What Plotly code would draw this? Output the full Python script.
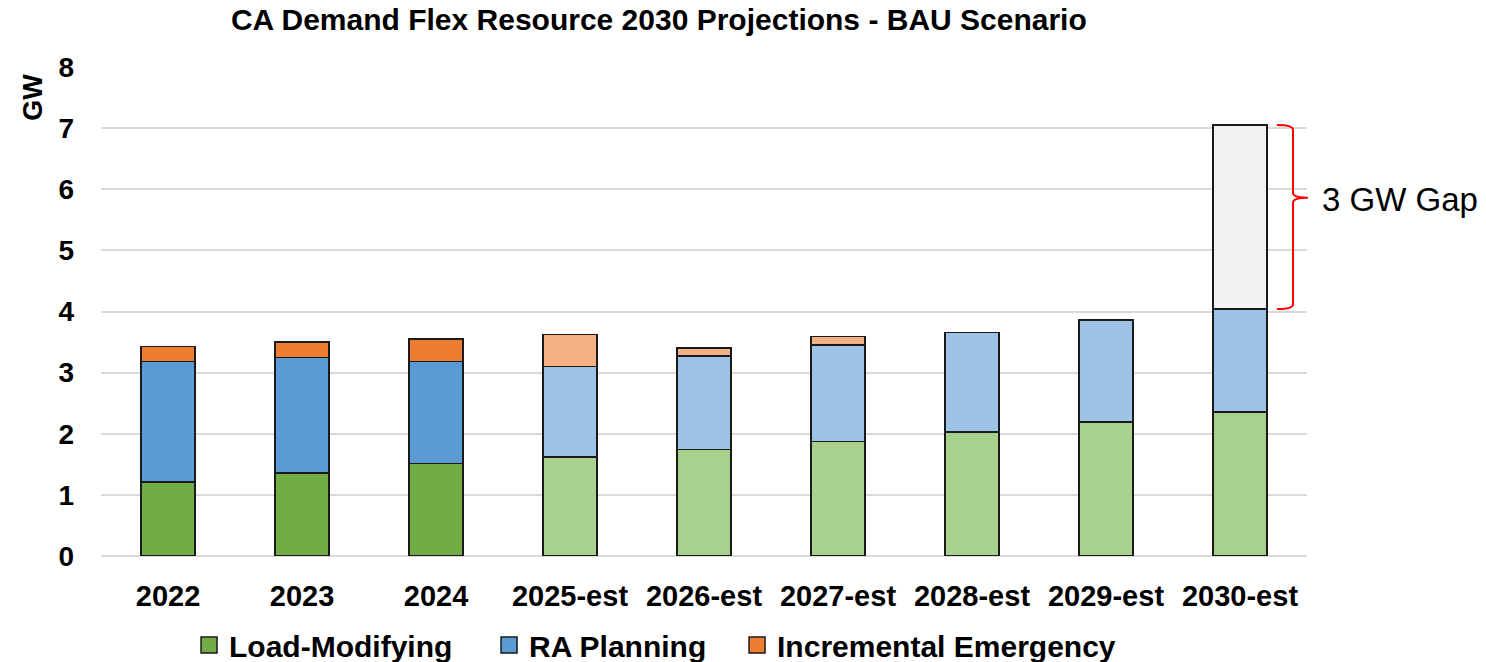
import plotly.graph_objects as go

categories = ["2022", "2023", "2024", "2025-est", "2026-est", "2027-est", "2028-est", "2029-est", "2030-est"]
load_modifying = [1.21, 1.36, 1.51, 1.62, 1.74, 1.87, 2.03, 2.19, 2.36]
ra_planning = [1.97, 1.89, 1.67, 1.48, 1.53, 1.58, 1.63, 1.67, 1.68]
incremental_emergency = [0.25, 0.25, 0.37, 0.52, 0.13, 0.14, 0.0, 0.0, 0.0]
gap = [0, 0, 0, 0, 0, 0, 0, 0, 3.01]
is_estimate = [False, False, False, True, True, True, True, True, True]
series_names = ["Load-Modifying", "RA Planning", "Incremental Emergency"]
legend_colors = ["#70AD47", "#5B9BD5", "#ED7D31"]

green = ["#A9D18E" if e else "#70AD47" for e in is_estimate]
blue = ["#9DC3E6" if e else "#5B9BD5" for e in is_estimate]
orange = ["#F4B183" if e else "#ED7D31" for e in is_estimate]

FONT = "Liberation Sans, Arial, sans-serif"
line = dict(color="#1a1a1a", width=1.5)

fig = go.Figure()
fig.add_trace(go.Bar(name=series_names[0], x=categories, y=load_modifying,
                     marker=dict(color=green, line=line), showlegend=False))
fig.add_trace(go.Bar(name=series_names[1], x=categories, y=ra_planning,
                     marker=dict(color=blue, line=line), showlegend=False))
ie_y = [v if v > 0 else None for v in incremental_emergency]
fig.add_trace(go.Bar(name=series_names[2], x=categories, y=ie_y,
                     marker=dict(color=orange, line=line), showlegend=False))
gap_y = [v if v > 0 else None for v in gap]
fig.add_trace(go.Bar(name="Gap", x=categories, y=gap_y, showlegend=False,
                     marker=dict(color="#F2F2F2", line=line)))

# legend entries (square swatches)
legend_widths = [255, 203, None]
for name, col, lw in zip(series_names, legend_colors, legend_widths):
    kw = dict(legendwidth=lw) if lw else {}
    fig.add_trace(go.Scatter(x=[None], y=[None], mode="markers", name=name,
                             marker=dict(symbol="square", size=16, color=col,
                                         line=dict(color="#1a1a1a", width=1.5)),
                             hoverinfo="skip", **kw))

# bracket for the gap
i = len(categories) - 1
bottom = load_modifying[i] + ra_planning[i] + incremental_emergency[i]
top = bottom + gap[i]
tip = top - 0.395 * (top - bottom)
x0, x1, x2 = 0.9751, 0.9884, 1.0008
r = 0.08
path = (f"M{x0},{top} Q{x1},{top} {x1},{top - r} "
        f"L{x1},{tip + r} Q{x1},{tip} {x2},{tip} "
        f"Q{x1},{tip} {x1},{tip - r} "
        f"L{x1},{bottom + r} Q{x1},{bottom} {x0},{bottom}")
fig.add_shape(type="path", path=path, xref="paper", yref="y",
              line=dict(color="#FF0000", width=2))
fig.add_annotation(text="3 GW Gap", x=1.0108, y=tip - 0.03, xref="paper", yref="y",
                   xanchor="left", yanchor="middle", showarrow=False,
                   font=dict(family=FONT, size=33, color="#000000"))

fig.add_annotation(text="<b>GW</b>", x=-0.057, y=7.5, xref="paper", yref="y",
                   textangle=-90, showarrow=False, xanchor="center", yanchor="middle",
                   font=dict(family=FONT, size=27, color="#000000"))

fig.update_layout(
    width=1486, height=662,
    barmode="stack", bargap=0.6,
    plot_bgcolor="white", paper_bgcolor="white",
    margin=dict(l=93, r=187, t=59, b=114, autoexpand=False),
    title=dict(text="<b>CA Demand Flex Resource 2030 Projections - BAU Scenario</b>",
               x=0.438, xanchor="center", y=0.982, yanchor="middle",
               font=dict(family=FONT, size=30, color="#000000")),
    font=dict(family=FONT, color="#000000"),
    legend=dict(orientation="h", x=0.073, xanchor="left", y=-0.129, yanchor="top",
                font=dict(family=FONT, size=30, color="#000000", weight="bold"),
                itemclick=False, traceorder="normal"),
    showlegend=True,
)
fig.update_xaxes(type="category", tickfont=dict(family=FONT, size=29, weight="bold"),
                 ticklabelstandoff=20, showline=False, ticks="")
fig.update_yaxes(range=[0, 8], dtick=1, showgrid=True, gridcolor="#D9D9D9", gridwidth=1.5,
                 zeroline=True, zerolinecolor="#D9D9D9", zerolinewidth=1.5,
                 tickfont=dict(family=FONT, size=28, weight="bold"),
                 ticklabelstandoff=26, ticks="")

fig.write_html("out.html")
